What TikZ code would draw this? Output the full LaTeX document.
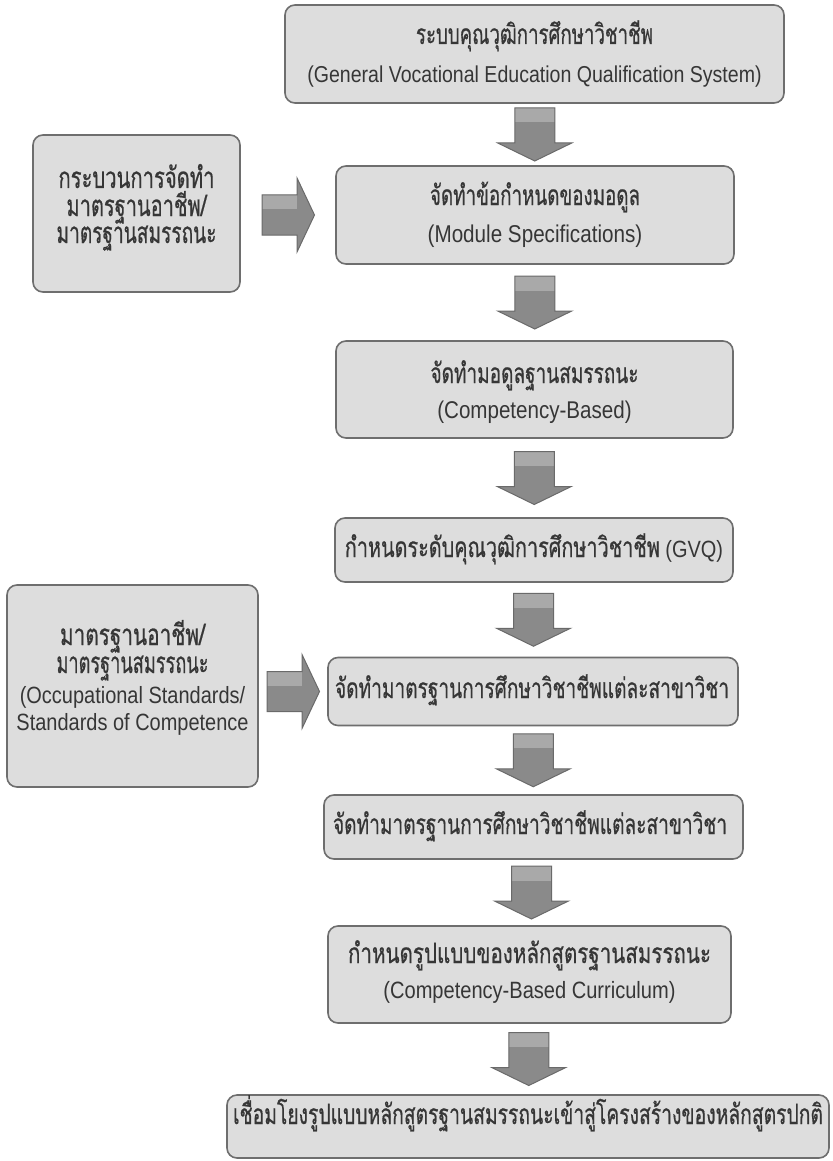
\documentclass[tikz,border=0pt]{standalone}
\usepackage{fontspec}
\usepackage{graphicx}
\setmainfont[FakeStretch=0.85]{Liberation Sans}
\newfontfamily\thai[Script=Thai, FakeBold=0.7]{Loma}
\newcommand\thfit[3]{\resizebox{#2pt}{\height}{\fontsize{#1}{#1}\selectfont\thai #3}}
\newcommand\entxt[2]{{\fontsize{#1}{#1}\selectfont #2}}
\usetikzlibrary{calc}
\definecolor{boxfill}{HTML}{DDDDDD}
\definecolor{boxline}{HTML}{6E6E6E}
\definecolor{txt}{HTML}{363636}
\definecolor{arrdark}{HTML}{8A8A8A}
\definecolor{arrlight}{HTML}{A9A9A9}
\definecolor{arrline}{HTML}{6A6A6A}
\tikzset{
  box/.style={draw=boxline, line width=1.6pt, fill=boxfill, rounded corners=10pt, inner sep=0pt},
  lbl/.style={anchor=base, inner sep=0pt, text=txt},
  pics/downarr/.style={code={
    \fill[arrdark] (-20,-26.5) -- (20,-26.5) -- (20,8.5) -- (37,8.5) -- (0,26.5)
      -- (-37,8.5) -- (-20,8.5) -- cycle;
    \fill[arrlight] (-20,-26.5) rectangle (20,-12);
    \draw[arrline, line width=1pt] (-20,-26.5) -- (20,-26.5) -- (20,8.5) -- (37,8.5)
      -- (0,26.5) -- (-37,8.5) -- (-20,8.5) -- cycle;
  }},
  pics/rightarr/.style={code={
    \fill[arrdark] (-26,-20) -- (9,-20) -- (9,-37) -- (26.5,0) -- (9,37) -- (9,20)
      -- (-26,20) -- cycle;
    \fill[arrlight] (-26,-20) rectangle (9,-6);
    \draw[arrline, line width=1pt] (-26,-20) -- (9,-20) -- (9,-37) -- (26.5,0)
      -- (9,37) -- (9,20) -- (-26,20) -- cycle;
  }}
}
\begin{document}
\begin{tikzpicture}[x=1pt, y=-1pt]
\useasboundingbox (0,0) rectangle (832,1161);
\fill[white] (0,0) rectangle (832,1161);

% main column boxes
\node[box, minimum width=499pt, minimum height=98pt] (b1) at (534.5,54) {};
\node[box, minimum width=398pt, minimum height=98pt] (b2) at (535,215) {};
\node[box, minimum width=397pt, minimum height=97pt] (b3) at (534.5,389.5) {};
\node[box, minimum width=398pt, minimum height=64pt] (b4) at (534,550) {};
\node[box, minimum width=410pt, minimum height=68pt] (b5) at (533,691.5) {};
\node[box, minimum width=419pt, minimum height=64pt] (b6) at (533.5,827) {};
\node[box, minimum width=403pt, minimum height=97pt] (b7) at (529.5,974.5) {};
\node[box, minimum width=602pt, minimum height=63pt] (b8) at (528,1126.5) {};
% side boxes
\node[box, minimum width=207pt, minimum height=157pt] (sa) at (136.5,213.5) {};
\node[box, minimum width=251pt, minimum height=202pt] (sb) at (132.5,686) {};

% texts
\node[lbl] (b1t) at (534.5,44) {\thfit{28}{237}{ระบบคุณวุฒิการศึกษาวิชาชีพ}};
\node[lbl] (b1e) at (534.5,83) {\entxt{23}{(General Vocational Education Qualification System)}};
\node[lbl] (b2t) at (535,205) {\thfit{28}{210}{จัดทำข้อกำหนดของมอดูล}};
\node[lbl] (b2e) at (535,242) {\entxt{24.3}{(Module Specifications)}};
\node[lbl] (b3t) at (534.5,383) {\thfit{28}{208}{จัดทำมอดูลฐานสมรรถนะ}};
\node[lbl] (b3e) at (534.5,418) {\entxt{24.2}{(Competency-Based)}};
\node[lbl] (b4t) at (534,557) {\thfit{28}{315}{กำหนดระดับคุณวุฒิการศึกษาวิชาชีพ}\entxt{23.5}{ (GVQ)}};
\node[lbl] (b5t) at (532,698) {\thfit{28}{394}{จัดทำมาตรฐานการศึกษาวิชาชีพแต่ละสาขาวิชา}};
\node[lbl] (b6t) at (530,834) {\thfit{28}{394}{จัดทำมาตรฐานการศึกษาวิชาชีพแต่ละสาขาวิชา}};
\node[lbl] (b7t) at (529.5,963) {\thfit{28}{363}{กำหนดรูปแบบของหลักสูตรฐานสมรรถนะ}};
\node[lbl] (b7e) at (529.5,998) {\entxt{23.6}{(Competency-Based Curriculum)}};
\node[lbl] (b8t) at (528,1124) {\thfit{28}{590}{เชื่อมโยงรูปแบบหลักสูตรฐานสมรรถนะเข้าสู่โครงสร้างของหลักสูตรปกติ}};

\node[lbl] (sat1) at (136.5,188) {\thfit{29.5}{156}{กระบวนการจัดทำ}};
\node[lbl] (sat2) at (136.5,216) {\thfit{29.5}{140}{มาตรฐานอาชีพ/}};
\node[lbl] (sat3) at (136.5,243) {\thfit{29.5}{160}{มาตรฐานสมรรถนะ}};
\node[lbl] (sbt1) at (132.5,645) {\thfit{29.5}{145}{มาตรฐานอาชีพ/}};
\node[lbl] (sbt2) at (132.5,673) {\thfit{29.5}{152}{มาตรฐานสมรรถนะ}};
\node[lbl] (sbe1) at (132.5,703) {\entxt{23.5}{(Occupational Standards/}};
\node[lbl] (sbe2) at (132.5,730) {\entxt{23.5}{Standards of Competence}};

% block arrows
\pic at ($(b1.south)!0.5!(b2.north)$) {downarr};
\pic at ($(b2.south)!0.5!(b3.north)$) {downarr};
\pic at ($(b3.south)!0.5!(b4.north)$) {downarr};
\pic at ($(b4.south)!0.5!(b5.north)$) {downarr};
\pic at ($(b5.south)!0.5!(b6.north)$) {downarr};
\pic at ($(b6.south)!0.5!(b7.north)$) {downarr};
\pic at ($(b7.south)!0.5!(b8.north)$) {downarr};
\pic at ($(sa.east |- b2.west)!0.5!(b2.west)$) {rightarr};
\pic at ($(sb.east |- b5.west)!0.5!(b5.west)$) {rightarr};
\end{tikzpicture}
\end{document}
